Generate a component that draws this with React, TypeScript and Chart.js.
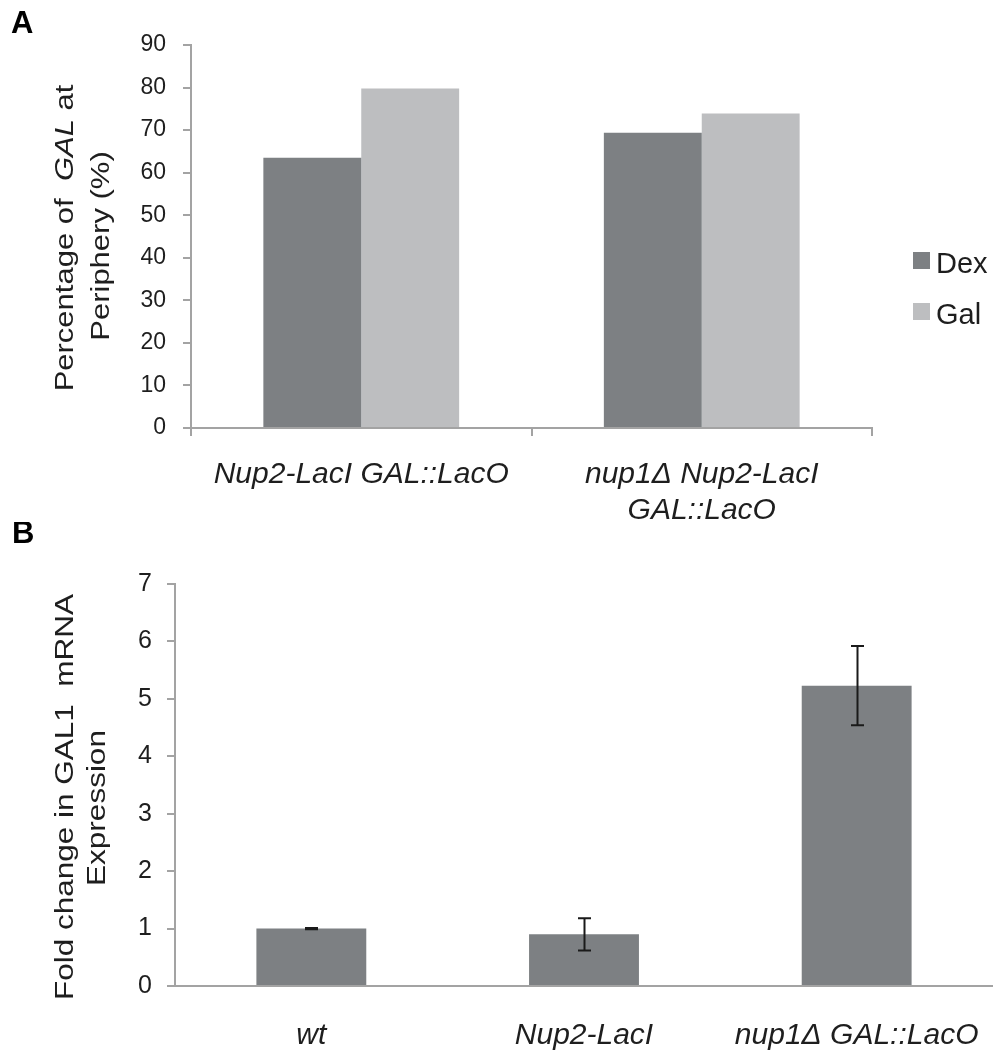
import React, { useEffect, useRef } from 'react';
import { Chart, registerables } from 'chart.js';

Chart.register(...registerables);

const FONT = '"Liberation Sans", Arial, Helvetica, sans-serif';

// ---------- Panel A data ----------
const categoriesA = [['Nup2-LacI GAL::LacO'], ['nup1Δ Nup2-LacI', 'GAL::LacO']];
const seriesNamesA = ['Dex', 'Gal'];
const dexValues = [63.5, 69.4];
const galValues = [79.8, 73.9];
const yMinA = 0;
const yMaxA = 90;
const yStepA = 10;

// ---------- Panel B data ----------
const categoriesB = ['wt', 'Nup2-LacI', 'nup1Δ GAL::LacO'];
const foldValues = [1.0, 0.9, 5.23];
const foldErrors = [0.01, 0.28, 0.69];
const yMinB = 0;
const yMaxB = 7;
const yStepB = 1;

const DARK = '#7d8083';
const LIGHT = '#bdbec0';
const AXIS = '#a3a3a3';
const TEXT = '#1e1e1e';

type Seg = { text: string; italic?: boolean };

function drawRotatedLine(
  ctx: CanvasRenderingContext2D,
  segs: Seg[],
  baselineX: number,
  centerY: number,
  size: number,
  stretch: number
) {
  ctx.save();
  ctx.translate(baselineX, centerY);
  ctx.rotate(-Math.PI / 2);
  ctx.scale(stretch, 1);
  ctx.fillStyle = TEXT;
  ctx.textBaseline = 'alphabetic';
  ctx.textAlign = 'left';
  let total = 0;
  const widths: number[] = [];
  for (const s of segs) {
    ctx.font = `${s.italic ? 'italic ' : ''}${size}px ${FONT}`;
    const w = ctx.measureText(s.text).width;
    widths.push(w);
    total += w;
  }
  let x = -total / 2;
  segs.forEach((s, i) => {
    ctx.font = `${s.italic ? 'italic ' : ''}${size}px ${FONT}`;
    ctx.fillText(s.text, x, 0);
    x += widths[i];
  });
  ctx.restore();
}

function drawPanelLetter(ctx: CanvasRenderingContext2D, letter: string, x: number, baseline: number) {
  ctx.save();
  ctx.font = `bold 31px ${FONT}`;
  ctx.fillStyle = '#000';
  ctx.textBaseline = 'alphabetic';
  ctx.textAlign = 'left';
  ctx.fillText(letter, x, baseline);
  ctx.restore();
}

export default function App() {
  const refA = useRef<HTMLCanvasElement>(null);
  const refB = useRef<HTMLCanvasElement>(null);

  useEffect(() => {
    const decorA = {
      id: 'decorA',
      afterDraw(chart: any) {
        const ctx = chart.ctx as CanvasRenderingContext2D;
        drawPanelLetter(ctx, 'A', 11, 33);
        drawRotatedLine(ctx, [{ text: 'Percentage of  ' }, { text: 'GAL', italic: true }, { text: ' at' }], 73, 238, 25, 1.24);
        drawRotatedLine(ctx, [{ text: 'Periphery (%)' }], 109, 246, 25, 1.24);
        // legend
        const ds = chart.data.datasets;
        const items = [
          { y: 252, base: 273 },
          { y: 303, base: 324 },
        ];
        ctx.save();
        ds.forEach((d: any, i: number) => {
          const it = items[i];
          ctx.fillStyle = d.backgroundColor;
          ctx.fillRect(913, it.y, 17, 17);
          ctx.fillStyle = TEXT;
          ctx.font = `29px ${FONT}`;
          ctx.textBaseline = 'alphabetic';
          ctx.textAlign = 'left';
          ctx.fillText(d.label, 936, it.base);
        });
        ctx.restore();
      },
    };

    const chartA = new Chart(refA.current!, {
      type: 'bar',
      data: {
        labels: categoriesA as any,
        datasets: [
          { label: seriesNamesA[0], data: dexValues, backgroundColor: DARK, borderWidth: 0 },
          { label: seriesNamesA[1], data: galValues, backgroundColor: LIGHT, borderWidth: 0 },
        ],
      },
      options: {
        responsive: false,
        animation: false,
        events: [],
        layout: { padding: { top: 45, right: 121, left: 0, bottom: 0 } },
        datasets: { bar: { categoryPercentage: 0.575, barPercentage: 1.0 } },
        plugins: { legend: { display: false }, tooltip: { enabled: false }, title: { display: false } },
        scales: {
          x: {
            ticks: {
              font: { family: FONT, size: 30, style: 'italic', lineHeight: 1.2 },
              color: TEXT,
              padding: 21,
              maxRotation: 0,
              minRotation: 0,
              autoSkip: false,
            },
            grid: { display: true, drawOnChartArea: false, drawTicks: true, tickLength: 8, color: AXIS, lineWidth: 2, offset: true },
            border: { display: true, color: AXIS, width: 2 },
            afterFit: (s: any) => {
              s.height = 94;
              s.paddingLeft = 0;
              s.paddingRight = 0;
            },
          },
          y: {
            min: yMinA,
            max: yMaxA,
            ticks: { stepSize: yStepA, font: { family: FONT, size: 23 }, color: TEXT, padding: 17 },
            grid: { display: true, drawOnChartArea: false, drawTicks: true, tickLength: 8, color: AXIS, lineWidth: 2 },
            border: { display: true, color: AXIS, width: 2 },
            afterFit: (s: any) => {
              s.width = 191;
              s.paddingTop = 0;
              s.paddingBottom = 0;
            },
          },
        },
      },
      plugins: [decorA],
    } as any);

    const decorB = {
      id: 'decorB',
      afterDatasetsDraw(chart: any) {
        const ctx = chart.ctx as CanvasRenderingContext2D;
        const meta = chart.getDatasetMeta(0);
        const ys = chart.scales.y;
        ctx.save();
        ctx.strokeStyle = '#1a1a1a';
        ctx.lineWidth = 2;
        meta.data.forEach((bar: any, i: number) => {
          const v = foldValues[i];
          const e = foldErrors[i];
          const x = Math.round(bar.x) + 0.5;
          const yt = ys.getPixelForValue(v + e);
          const yb = ys.getPixelForValue(v - e);
          ctx.beginPath();
          ctx.moveTo(x, yt);
          ctx.lineTo(x, yb);
          ctx.moveTo(x - 6.5, yt);
          ctx.lineTo(x + 6.5, yt);
          ctx.moveTo(x - 6.5, yb);
          ctx.lineTo(x + 6.5, yb);
          ctx.stroke();
        });
        ctx.restore();
      },
      afterDraw(chart: any) {
        const ctx = chart.ctx as CanvasRenderingContext2D;
        drawPanelLetter(ctx, 'B', 12, 21);
        drawRotatedLine(ctx, [{ text: 'Fold change in GAL1  mRNA' }], 73, 275, 25, 1.26);
        drawRotatedLine(ctx, [{ text: 'Expression' }], 105, 286, 25, 1.26);
      },
    };

    const chartB = new Chart(refB.current!, {
      type: 'bar',
      data: {
        labels: categoriesB,
        datasets: [{ label: 'Fold change', data: foldValues, backgroundColor: DARK, borderWidth: 0 }],
      },
      options: {
        responsive: false,
        animation: false,
        events: [],
        layout: { padding: { top: 62, right: 0, left: 0, bottom: 0 } },
        datasets: { bar: { categoryPercentage: 0.403, barPercentage: 1.0 } },
        plugins: { legend: { display: false }, tooltip: { enabled: false }, title: { display: false } },
        scales: {
          x: {
            ticks: {
              font: { family: FONT, size: 30, style: 'italic', lineHeight: 1.2 },
              color: TEXT,
              padding: 24,
              maxRotation: 0,
              minRotation: 0,
              autoSkip: false,
            },
            grid: { display: false },
            border: { display: true, color: AXIS, width: 2 },
            afterFit: (s: any) => {
              s.height = 65;
              s.paddingLeft = 0;
              s.paddingRight = 0;
            },
          },
          y: {
            min: yMinB,
            max: yMaxB,
            ticks: { stepSize: yStepB, font: { family: FONT, size: 25 }, color: TEXT, padding: 15 },
            grid: { display: true, drawOnChartArea: false, drawTicks: true, tickLength: 8, color: AXIS, lineWidth: 2 },
            border: { display: true, color: AXIS, width: 2 },
            afterFit: (s: any) => {
              s.width = 175;
              s.paddingTop = 0;
              s.paddingBottom = 0;
            },
          },
        },
      },
      plugins: [decorB],
    } as any);

    return () => {
      chartA.destroy();
      chartB.destroy();
    };
  }, []);

  return (
    <div style={{ position: 'absolute', left: 0, top: 0, width: 993, height: 1051, background: '#fff' }}>
      <canvas ref={refA} width={993} height={522} style={{ position: 'absolute', left: 0, top: 0, display: 'block' }} />
      <canvas ref={refB} width={993} height={529} style={{ position: 'absolute', left: 0, top: 522, display: 'block' }} />
    </div>
  );
}
